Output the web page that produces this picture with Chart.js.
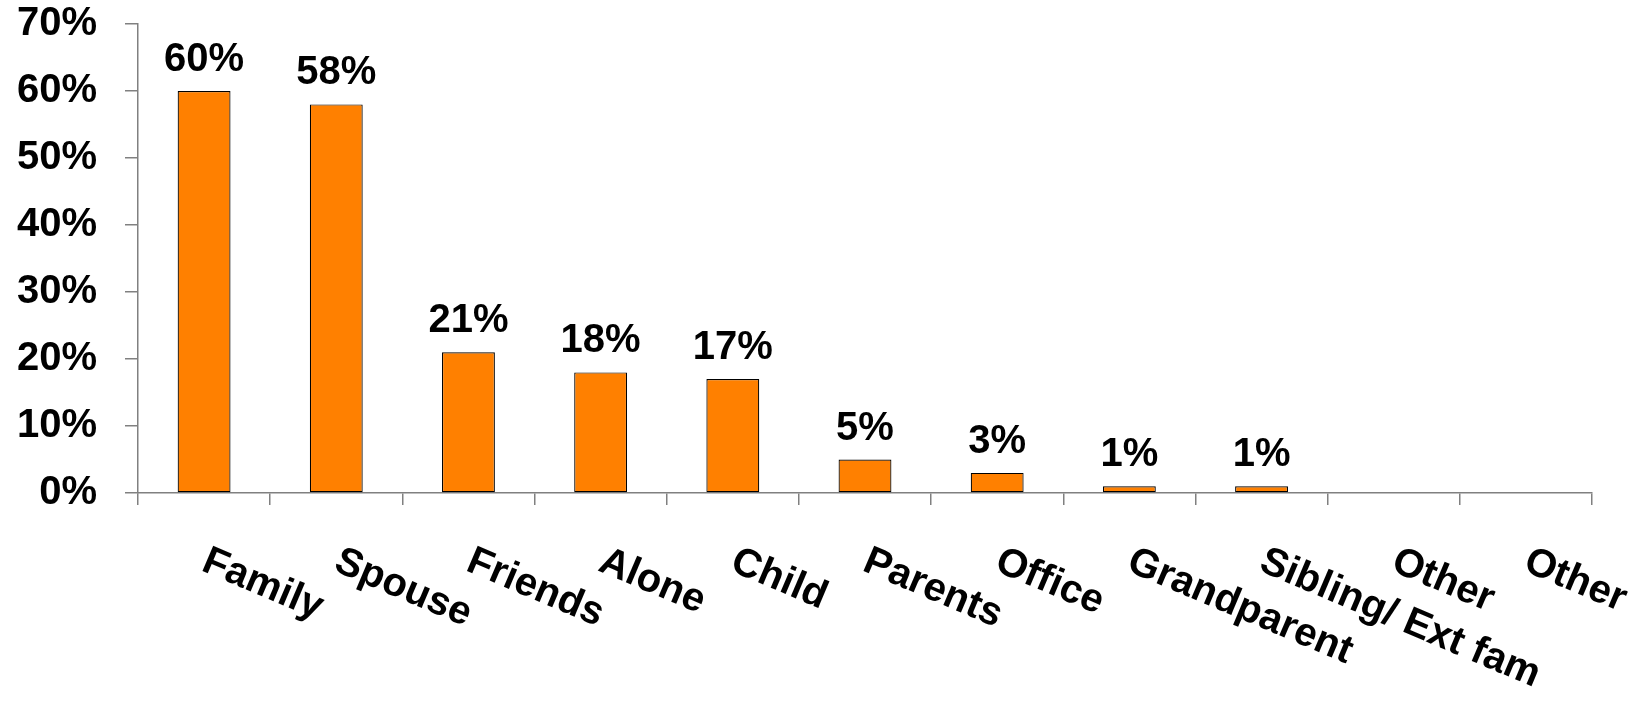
<!DOCTYPE html>
<html>
<head>
<meta charset="utf-8">
<script src="https://cdn.jsdelivr.net/npm/chart.js@4/dist/chart.umd.min.js"></script>
<style>
  html, body { margin: 0; padding: 0; background: #ffffff; }
  #wrap { width: 1649px; height: 702px; }
</style>
</head>
<body>
<div id="wrap"><canvas id="chart" width="1649" height="702"></canvas></div>
<script>
// Who people share the moment with (share of respondents, %)
const categories = ['Family', 'Spouse', 'Friends', 'Alone', 'Child', 'Parents',
                    'Office', 'Grandparent', 'Sibling/ Ext fam', 'Other', 'Other'];
const shares = [60, 58, 21, 18, 17, 5, 3, 1, 1, 0, 0];
const yTicks = [0, 10, 20, 30, 40, 50, 60, 70];

const FONT_FAMILY = '"Liberation Sans", Arial, Helvetica, sans-serif';
const AXIS_GREY = '#808080';

// Value labels above each bar
const valueLabels = {
  id: 'valueLabels',
  afterDatasetsDraw(chart) {
    const ctx = chart.ctx;
    const meta = chart.getDatasetMeta(0);
    ctx.save();
    ctx.font = 'bold 40px ' + FONT_FAMILY;
    ctx.fillStyle = '#000000';
    ctx.textAlign = 'center';
    ctx.textBaseline = 'alphabetic';
    meta.data.forEach((bar, i) => {
      const v = shares[i];
      if (!v) return;
      ctx.fillText(v + '%', bar.x, bar.y - 20);
    });
    ctx.restore();
  }
};

// Category names, slanted downward to the right from each slot
const slantedCategoryLabels = {
  id: 'slantedCategoryLabels',
  afterDraw(chart) {
    const ctx = chart.ctx;
    const xs = chart.scales.x;
    const angle = 23 * Math.PI / 180;
    ctx.save();
    ctx.font = 'bold 40px ' + FONT_FAMILY;
    ctx.fillStyle = '#000000';
    ctx.textAlign = 'left';
    ctx.textBaseline = 'alphabetic';
    categories.forEach((name, i) => {
      const x = xs.getPixelForValue(i) - 4;
      const y = xs.top + 77;
      ctx.save();
      ctx.translate(x, y);
      ctx.rotate(angle);
      ctx.fillText(name, 0, 0);
      ctx.restore();
    });
    ctx.restore();
  }
};

new Chart(document.getElementById('chart'), {
  type: 'bar',
  data: {
    labels: categories,
    datasets: [{
      data: shares,
      backgroundColor: '#FF8000',
      borderColor: '#000000',
      borderWidth: 1.2,
      borderSkipped: false,
      barPercentage: 0.4,
      categoryPercentage: 1.0
    }]
  },
  options: {
    responsive: false,
    maintainAspectRatio: false,
    animation: false,
    devicePixelRatio: 1,
    layout: { autoPadding: false, padding: { top: 24, right: 57, bottom: 0, left: 0 } },
    plugins: {
      legend: { display: false },
      tooltip: { enabled: false },
      title: { display: false }
    },
    scales: {
      x: {
        grid: {
          display: true,
          offset: true,
          drawOnChartArea: false,
          drawTicks: true,
          tickLength: 12,
          color: AXIS_GREY,
          lineWidth: 1.5
        },
        border: { display: true, color: AXIS_GREY, width: 1.5 },
        ticks: { display: false },
        afterFit(scale) {
          scale.height = 209;
          scale.paddingLeft = 0;
          scale.paddingRight = 0;
        }
      },
      y: {
        min: 0,
        max: 70,
        afterBuildTicks(scale) {
          scale.ticks = yTicks.map(v => ({ value: v }));
        },
        grid: {
          display: true,
          drawOnChartArea: false,
          drawTicks: true,
          tickLength: 13,
          color: AXIS_GREY,
          lineWidth: 1.5
        },
        border: { display: true, color: AXIS_GREY, width: 1.5 },
        ticks: {
          padding: 28,
          color: '#000000',
          font: { family: FONT_FAMILY, size: 40, weight: 'bold' },
          callback: (v) => v + '%'
        },
        afterFit(scale) {
          scale.width = 138;
          scale.paddingTop = 0;
          scale.paddingBottom = 0;
        }
      }
    }
  },
  plugins: [valueLabels, slantedCategoryLabels]
});
</script>
</body>
</html>
